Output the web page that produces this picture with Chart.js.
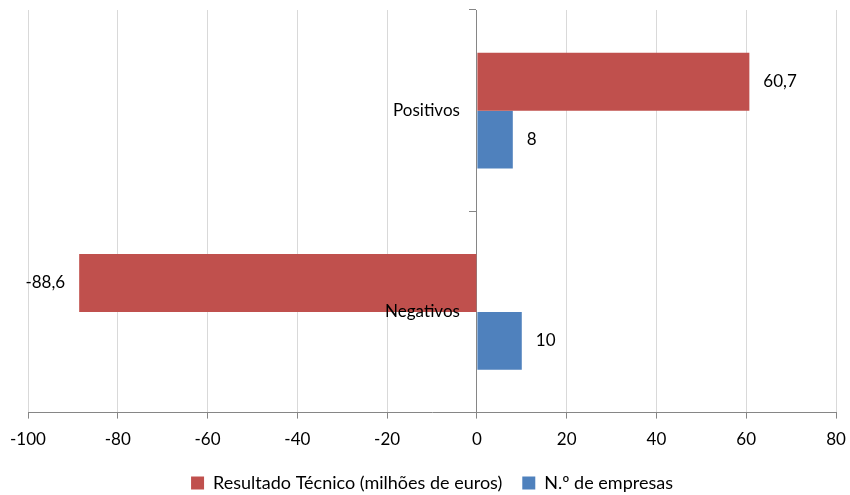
<!DOCTYPE html>
<html>
<head>
<meta charset="utf-8">
<script src="https://cdn.jsdelivr.net/npm/chart.js@4"></script>
<style>
html,body{margin:0;padding:0;background:#fff;}
#wrap{width:850px;height:495px;position:relative;}
</style>
</head>
<body>
<div id="wrap"><canvas id="c" width="850" height="495"></canvas></div>
<script>
const categories = ["Positivos", "Negativos"];
const resultadoTecnico = [60.7, -88.6];
const numEmpresas = [8, 10];
const seriesNames = ["Resultado Técnico (milhões de euros)", "N.º de empresas"];
const xTicks = [-100, -80, -60, -40, -20, 0, 20, 40, 60, 80];

const FONT = "Lato, 'Open Sans', sans-serif";

const labelPlugin = {
  id: 'barLabels',
  afterDatasetsDraw(chart) {
    const ctx = chart.ctx;
    ctx.save();
    ctx.font = "17px " + FONT;
    ctx.fillStyle = "#000";
    ctx.textBaseline = "middle";
    chart.data.datasets.forEach((ds, i) => {
      const meta = chart.getDatasetMeta(i);
      meta.data.forEach((bar, j) => {
        const v = ds.data[j];
        const txt = String(v).replace('.', ',');
        if (v >= 0) {
          ctx.textAlign = "left";
          ctx.fillText(txt, bar.x + 14, bar.y);
        } else {
          ctx.textAlign = "right";
          ctx.fillText(txt, bar.x - 14, bar.y);
        }
      });
    });
    const xs = chart.scales.x, ys = chart.scales.y;
    const x0 = xs.getPixelForValue(0);
    ctx.textAlign = "right";
    categories.forEach((c, j) => {
      ctx.fillText(c, x0 - 17, ys.getPixelForValue(j));
    });
    ctx.restore();
  }
};

new Chart(document.getElementById('c'), {
  type: 'bar',
  data: {
    labels: categories,
    datasets: [
      { label: seriesNames[0], data: resultadoTecnico, backgroundColor: '#C0504D', borderWidth: 0 },
      { label: seriesNames[1], data: numEmpresas, backgroundColor: '#4F81BD', borderWidth: 0 }
    ]
  },
  options: {
    indexAxis: 'y',
    responsive: false,
    animation: false,
    devicePixelRatio: 1,
    layout: { padding: { left: 28, right: 14, top: 10, bottom: -7 } },
    datasets: { bar: { categoryPercentage: 0.575, barPercentage: 1 } },
    scales: {
      x: {
        type: 'linear',
        min: -100, max: 80,
        afterBuildTicks(axis) { axis.ticks = xTicks.map(v => ({ value: v })); },
        afterFit(axis) { axis.paddingLeft = 0; axis.paddingRight = 0; axis.height -= 7; },
        grid: { color: '#D9D9D9', lineWidth: 1, tickLength: 6, tickColor: '#868686', drawTicks: true },
        border: { color: '#868686', width: 1 },
        ticks: { color: '#000', font: { family: FONT, size: 17 }, padding: 11 }
      },
      y: {
        position: { x: 0 },
        offset: true,
        grid: { offset: true, drawOnChartArea: false, tickLength: 7, tickColor: '#868686' },
        border: { color: '#868686', width: 1 },
        ticks: { display: false }
      }
    },
    plugins: {
      legend: {
        position: 'bottom',
        labels: { boxWidth: 13, boxHeight: 13, color: '#000', font: { family: FONT, size: 18 }, padding: 20 }
      },
      tooltip: { enabled: false }
    }
  },
  plugins: [labelPlugin]
});
</script>
</body>
</html>
